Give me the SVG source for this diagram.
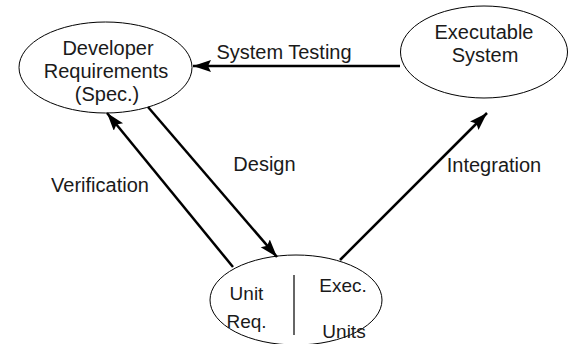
<svg xmlns="http://www.w3.org/2000/svg" width="568" height="344" viewBox="0 0 568 344">
<style>
.node ellipse{fill:#fff;stroke:#000;stroke-width:1}
text{font-family:"Liberation Sans",Arial,sans-serif;font-size:20px;fill:#1a1a1a;text-anchor:middle}
.small{font-size:19px}
.conn line{stroke:#000;stroke-width:2.5;marker-end:url(#ah)}
</style>
<defs>
<marker id="ah" markerUnits="userSpaceOnUse" markerWidth="20" markerHeight="14" refX="18" refY="6" orient="auto">
<path d="M0,0 L18,6 L0,12 L3,6 z" fill="#000"/>
</marker>
</defs>
<rect width="568" height="344" fill="#fff"/>
<g id="dev" class="node">
<ellipse cx="105.5" cy="67.5" rx="86.5" ry="45.5"/>
<text x="108" y="55">Developer</text>
<text x="106" y="78">Requirements</text>
<text x="107" y="101">(Spec.)</text>
</g>
<g id="exe" class="node">
<ellipse cx="484" cy="52" rx="83.5" ry="46"/>
<text x="484" y="39">Executable</text>
<text x="485" y="62">System</text>
</g>
<g id="unit" class="node">
<ellipse cx="296" cy="300" rx="86" ry="45"/>
<line x1="294" y1="275" x2="294" y2="335" stroke="#333" stroke-width="1.5"/>
<text class="small" x="246.5" y="300">Unit</text>
<text class="small" x="246.5" y="328">Req.</text>
<text class="small" x="343" y="292">Exec.</text>
<text class="small" x="344" y="338">Units</text>
</g>
<g id="connectors" class="conn">
<line x1="400" y1="66" x2="193" y2="66"/>
<line x1="233" y1="267" x2="107" y2="113"/>
<line x1="148" y1="107" x2="277" y2="257"/>
<line x1="340" y1="260" x2="487" y2="113"/>
</g>
<g id="labels">
<text x="284" y="59">System Testing</text>
<text x="100" y="192">Verification</text>
<text x="264.5" y="171">Design</text>
<text x="494" y="172">Integration</text>
</g>
</svg>
